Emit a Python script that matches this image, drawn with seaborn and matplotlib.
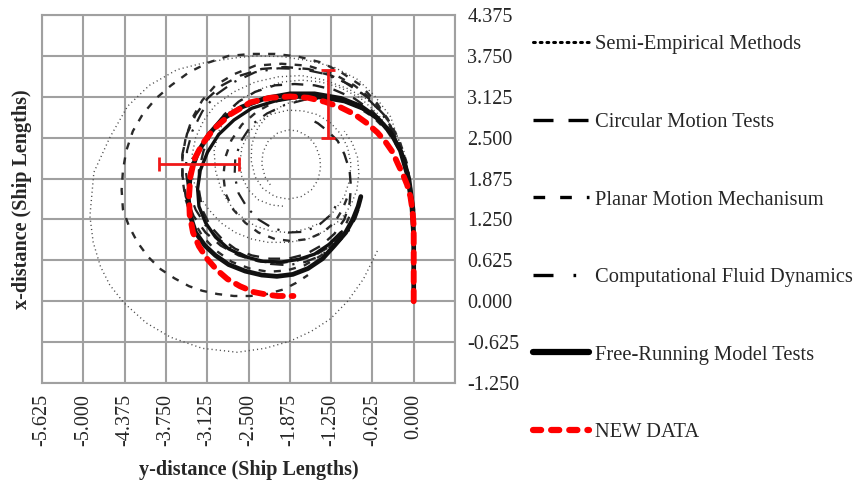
import numpy as np
import pandas as pd
import matplotlib
matplotlib.use("Agg")
import matplotlib.pyplot as plt
from matplotlib.lines import Line2D
import seaborn as sns

# ---------------- data (y-distance = horizontal, x-distance = vertical) -------------
# Semi-Empirical Methods (dotted)
semi1_y = [0, 0, -0.02, -0.13, -0.35, -0.6, -0.85, -1.21, -1.6, -2.0, -2.4, -2.7, -3.15, -3.58, -4.0, -4.33, -4.6, -4.84, -4.9, -4.85, -4.74, -4.6, -4.39, -4.05, -3.68, -3.2, -2.67, -2.25, -1.87, -1.55, -1.26, -1.0, -0.76, -0.53]
semi1_x = [0, 0.8, 1.5, 2.17, 2.82, 3.15, 3.39, 3.58, 3.68, 3.74, 3.75, 3.72, 3.65, 3.54, 3.3, 2.98, 2.5, 1.97, 1.3, 0.9, 0.53, 0.25, -0.02, -0.33, -0.55, -0.72, -0.78, -0.72, -0.61, -0.46, -0.27, 0.0, 0.34, 0.81]
semi2_y = [0, 0, -0.04, -0.1, -0.2, -0.35, -0.55, -0.8, -1.1, -1.4, -1.7, -2.0, -2.3, -2.6, -2.8, -2.95, -3.02, -3.0, -2.92, -2.8, -2.62, -2.4, -2.15, -1.9, -1.65, -1.4, -1.2, -1.05, -0.97, -0.95, -1.0, -1.1, -1.25, -1.45, -1.68, -1.9, -2.15, -2.35, -2.5, -2.6, -2.63, -2.6, -2.5, -2.35, -2.15, -1.95]
semi2_x = [0, 1.2, 1.65, 2.0, 2.32, 2.6, 2.87, 3.1, 3.26, 3.35, 3.38, 3.35, 3.25, 3.1, 2.88, 2.6, 2.3, 2.0, 1.73, 1.5, 1.3, 1.15, 1.07, 1.05, 1.1, 1.2, 1.38, 1.6, 1.85, 2.1, 2.35, 2.55, 2.72, 2.85, 2.91, 2.92, 2.86, 2.75, 2.57, 2.35, 2.12, 1.9, 1.7, 1.55, 1.47, 1.45]
semi3_y = [0, 0, -0.02, -0.05, -0.13, -0.25, -0.4, -0.6, -0.85, -1.1, -1.4, -1.7, -1.97, -2.2, -2.36, -2.45, -2.46, -2.4, -2.28, -2.1, -1.9, -1.7, -1.55, -1.45, -1.41, -1.42, -1.49, -1.6, -1.75, -1.9, -2.06, -2.2, -2.28, -2.3, -2.25, -2.15]
semi3_x = [0, 1.0, 1.4, 1.8, 2.12, 2.4, 2.65, 2.85, 3.0, 3.1, 3.14, 3.1, 3.0, 2.85, 2.65, 2.4, 2.15, 1.9, 1.72, 1.6, 1.56, 1.6, 1.7, 1.85, 2.03, 2.2, 2.39, 2.52, 2.6, 2.62, 2.57, 2.45, 2.28, 2.1, 1.9, 1.75]
semi4_y = [0, 0, -0.06, -0.15, -0.3, -0.5, -0.73, -1.0, -1.35, -1.7, -2.05, -2.4, -2.72, -3.0, -3.18, -3.3, -3.36, -3.35, -3.26, -3.1, -2.92, -2.7, -2.45, -2.2, -1.9, -1.6, -1.33, -1.1, -0.95, -0.86, -0.83, -0.85, -0.93, -1.05]
semi4_x = [0, 1.3, 1.85, 2.3, 2.63, 2.9, 3.1, 3.25, 3.38, 3.45, 3.43, 3.35, 3.2, 3.0, 2.76, 2.5, 2.2, 1.9, 1.63, 1.4, 1.2, 1.05, 0.95, 0.9, 0.9, 0.95, 1.08, 1.25, 1.47, 1.7, 1.95, 2.2, 2.42, 2.6]

# Circular Motion Tests (long dash)
cmt1_y = [0, 0, -0.04, -0.1, -0.22, -0.4, -0.62, -0.9, -1.2, -1.5, -1.8, -2.1, -2.4, -2.65, -2.87, -3.05, -3.18, -3.25, -3.25, -3.2, -3.08, -2.9, -2.7, -2.45, -2.18, -1.9, -1.63, -1.4, -1.2, -1.05, -0.97, -0.95, -0.97, -1.05, -1.15, -1.3, -1.45, -1.6]
cmt1_x = [0, 1.2, 1.62, 2.0, 2.35, 2.65, 2.9, 3.1, 3.23, 3.3, 3.32, 3.3, 3.2, 3.05, 2.85, 2.6, 2.3, 2.0, 1.7, 1.4, 1.15, 0.95, 0.8, 0.7, 0.65, 0.65, 0.72, 0.85, 1.03, 1.25, 1.5, 1.75, 2.0, 2.25, 2.45, 2.6, 2.72, 2.8]
cmt2_y = [0, 0, -0.06, -0.15, -0.28, -0.45, -0.68, -0.95, -1.25, -1.6, -1.95, -2.3, -2.62, -2.9, -3.12, -3.3, -3.43, -3.5, -3.5, -3.45, -3.33, -3.15, -2.92, -2.65, -2.35, -2.05, -1.77, -1.5, -1.28, -1.1]
cmt2_x = [0, 1.3, 1.8, 2.2, 2.55, 2.85, 3.1, 3.3, 3.45, 3.55, 3.58, 3.55, 3.45, 3.3, 3.1, 2.85, 2.56, 2.25, 1.92, 1.6, 1.3, 1.05, 0.85, 0.7, 0.61, 0.58, 0.62, 0.7, 0.83, 1.0]

# Planar Motion Mechanism (short dash)
pmm1_y = [0, 0, -0.04, -0.1, -0.2, -0.35, -0.55, -0.8, -1.1, -1.4, -1.75, -2.1, -2.45, -2.8, -3.1, -3.4, -3.67, -3.9, -4.1, -4.25, -4.35, -4.4, -4.42, -4.4, -4.31, -4.18, -4.02, -3.83, -3.62, -3.4, -3.2, -2.97, -2.72, -2.47, -2.22, -1.97, -1.78, -1.6]
pmm1_x = [0, 1.2, 1.65, 2.0, 2.37, 2.7, 3.02, 3.3, 3.5, 3.65, 3.74, 3.78, 3.78, 3.75, 3.65, 3.5, 3.3, 3.1, 2.86, 2.6, 2.3, 2.0, 1.7, 1.4, 1.15, 0.9, 0.68, 0.49, 0.35, 0.23, 0.16, 0.11, 0.08, 0.08, 0.11, 0.18, 0.28, 0.4]
pmm2_y = [0, 0, -0.04, -0.1, -0.22, -0.4, -0.62, -0.9, -1.22, -1.6, -2.0, -2.4, -2.72, -3.0, -3.2, -3.35, -3.45, -3.5, -3.5, -3.45, -3.35, -3.2, -3.0, -2.75, -2.48, -2.2, -1.92, -1.65, -1.4, -1.2, -1.05, -0.95]
pmm2_x = [0, 1.3, 1.72, 2.1, 2.47, 2.8, 3.08, 3.3, 3.48, 3.6, 3.63, 3.6, 3.47, 3.3, 3.07, 2.8, 2.5, 2.2, 1.87, 1.55, 1.26, 1.0, 0.78, 0.6, 0.5, 0.45, 0.47, 0.55, 0.7, 0.9, 1.12, 1.35]
pmm3_y = [0, 0, -0.04, -0.1, -0.22, -0.4, -0.62, -0.9, -1.2, -1.5, -1.8, -2.1, -2.37, -2.6, -2.76, -2.85, -2.88, -2.85, -2.73, -2.55, -2.35, -2.1, -1.85, -1.6, -1.38, -1.2, -1.08, -1.0]
pmm3_x = [0, 1.2, 1.62, 2.0, 2.32, 2.6, 2.82, 3.0, 3.11, 3.15, 3.13, 3.05, 2.9, 2.7, 2.46, 2.2, 1.92, 1.65, 1.4, 1.2, 1.05, 0.95, 0.92, 0.95, 1.05, 1.2, 1.4, 1.6]

# Computational Fluid Dynamics (dash-dot)
cfd1_y = [0, 0, -0.06, -0.15, -0.3, -0.5, -0.75, -1.05, -1.37, -1.7, -2.05, -2.4, -2.72, -3.0, -3.2, -3.35, -3.43, -3.45, -3.41, -3.3, -3.15, -2.95, -2.72, -2.45, -2.17, -1.9, -1.64, -1.4, -1.18, -1.0, -0.88, -0.8]
cfd1_x = [0, 1.3, 1.78, 2.2, 2.57, 2.9, 3.15, 3.35, 3.48, 3.55, 3.56, 3.5, 3.35, 3.15, 2.9, 2.6, 2.3, 2.0, 1.7, 1.4, 1.16, 0.95, 0.78, 0.65, 0.57, 0.55, 0.6, 0.7, 0.86, 1.05, 1.27, 1.5]
cfd2_y = [0, 0, -0.04, -0.1, -0.2, -0.35, -0.55, -0.8, -1.07, -1.35, -1.65, -1.95, -2.22, -2.45, -2.6, -2.7, -2.71, -2.65, -2.52, -2.35, -2.14, -1.9, -1.67, -1.45, -1.28, -1.15]
cfd2_x = [0, 1.2, 1.6, 1.95, 2.27, 2.55, 2.78, 2.95, 3.06, 3.1, 3.08, 3.0, 2.87, 2.7, 2.47, 2.2, 1.92, 1.65, 1.43, 1.25, 1.12, 1.05, 1.06, 1.15, 1.3, 1.5]

# Free-Running Model Tests (thick solid)
frm1_y = [0, 0, -0.03, -0.1, -0.2, -0.35, -0.55, -0.8, -1.1, -1.5, -1.87, -2.25, -2.6, -2.9, -3.1, -3.27, -3.38, -3.41, -3.38, -3.3, -3.16, -3.0, -2.8, -2.55, -2.3, -2.07, -1.83, -1.6, -1.38, -1.2, -1.03, -0.92, -0.84, -0.8]
frm1_x = [0, 1.0, 1.5, 1.95, 2.3, 2.58, 2.8, 2.98, 3.1, 3.17, 3.17, 3.1, 2.97, 2.78, 2.55, 2.27, 1.95, 1.56, 1.3, 1.05, 0.85, 0.7, 0.56, 0.46, 0.4, 0.38, 0.41, 0.5, 0.65, 0.85, 1.05, 1.25, 1.45, 1.6]
frm2_y = [0, 0, -0.06, -0.15, -0.3, -0.5, -0.75, -1.05, -1.4, -1.75, -2.1, -2.45, -2.72, -2.95, -3.12, -3.23, -3.27, -3.25, -3.15, -3.0, -2.8, -2.55, -2.28, -2.0, -1.74, -1.5, -1.28, -1.1]
frm2_x = [0, 1.4, 1.85, 2.2, 2.5, 2.75, 2.93, 3.05, 3.11, 3.12, 3.06, 2.95, 2.77, 2.55, 2.28, 2.0, 1.72, 1.45, 1.2, 0.98, 0.8, 0.68, 0.61, 0.6, 0.64, 0.72, 0.87, 1.05]

# NEW DATA (red dashed) and its error bars
new_y = [0, 0, 0, -0.02, -0.05, -0.1, -0.16, -0.24, -0.32, -0.43, -0.55, -0.72, -0.9, -1.12, -1.35, -1.6, -1.87, -2.17, -2.47, -2.77, -3.03, -3.2, -3.32, -3.38, -3.4, -3.39, -3.34, -3.25, -3.12, -2.98, -2.82, -2.63, -2.42, -2.22, -2.06, -1.82]
new_x = [0, 0.6, 1.15, 1.4, 1.6, 1.78, 1.93, 2.1, 2.28, 2.44, 2.58, 2.73, 2.86, 2.97, 3.05, 3.11, 3.13, 3.11, 3.04, 2.86, 2.63, 2.4, 2.17, 1.9, 1.6, 1.32, 1.05, 0.84, 0.64, 0.48, 0.34, 0.23, 0.14, 0.1, 0.08, 0.08]
err_v_y, err_v_x, err_v_half = -1.29, 3.02, 0.52   # vertical error bar
err_h_y, err_h_x, err_h_half = -3.25, 2.105, 0.60  # horizontal error bar

xtick_vals = [-5.625, -5.0, -4.375, -3.75, -3.125, -2.5, -1.875, -1.25, -0.625, 0.0, 0.625]
xtick_labels = ["-5.625", "-5.000", "-4.375", "-3.750", "-3.125", "-2.500", "-1.875", "-1.250", "-0.625", "0.000", ""]
ytick_vals = [-1.25, -0.625, 0.0, 0.625, 1.25, 1.875, 2.5, 3.125, 3.75, 4.375]
ytick_labels = ["-1.250", "-0.625", "0.000", "0.625", "1.250", "1.875", "2.500", "3.125", "3.750", "4.375"]

legend_labels = ["Semi-Empirical Methods", "Circular Motion Tests", "Planar Motion Mechanisum",
                 "Computational Fluid Dynamics", "Free-Running Model Tests", "NEW DATA"]

# ---------------- style ----------------
sns.set_theme(style="white")
plt.rcParams["font.family"] = ["Liberation Serif", "DejaVu Serif"]
FS = 14.5

fig = plt.figure(figsize=(8.58, 4.86), dpi=100)
ax = fig.add_axes([42 / 858, 103 / 486, 413 / 858, 368 / 486])

dot_ls = (0, (0.8, 2.2))
long_ls = (0, (5, 4))
short_ls = (0, (3, 3.5))
dashdot_ls = (0, (6, 4, 1, 4))

styles = {
    "semi": dict(color="#4a4a4a", linewidth=1.0, linestyle=dot_ls),
    "cmt": dict(color="#222222", linewidth=1.7, linestyle=long_ls),
    "pmm": dict(color="#2a2a2a", linewidth=1.7, linestyle=short_ls),
    "cfd": dict(color="#222222", linewidth=1.6, linestyle=dashdot_ls),
    "frm": dict(color="#111111", linewidth=3.4, linestyle="-"),
}

curves = [
    ("semi", semi1_y, semi1_x, None), ("semi", semi2_y, semi2_x, None),
    ("semi", semi3_y, semi3_x, None), ("semi", semi4_y, semi4_x, None),
    ("pmm", pmm1_y, pmm1_x, None), ("pmm", pmm2_y, pmm2_x, None), ("pmm", pmm3_y, pmm3_x, None),
    ("cmt", cmt1_y, cmt1_x, None), ("cmt", cmt2_y, cmt2_x, None),
    ("cfd", cfd1_y, cfd1_x, None), ("cfd", cfd2_y, cfd2_x, None),
    ("frm", frm1_y, frm1_x, None), ("frm", frm2_y, frm2_x, 2.4),
]
for kind, yy, xx, lw in curves:
    st = dict(styles[kind])
    if lw is not None:
        st["linewidth"] = lw
    sns.lineplot(x=yy, y=xx, sort=False, estimator=None, ax=ax, legend=False, **st)

sns.lineplot(x=new_y, y=new_x, sort=False, estimator=None, ax=ax, legend=False,
             color="#ff0000", linewidth=4.2, linestyle=(0, (1.8, 1.5)), dash_capstyle="round")

ax.errorbar([err_v_y], [err_v_x], yerr=[err_v_half], fmt="none", ecolor="#f01818",
            elinewidth=2.0, capsize=5, capthick=2.0)
ax.errorbar([err_h_y], [err_h_x], xerr=[err_h_half], fmt="none", ecolor="#f01818",
            elinewidth=2.0, capsize=5, capthick=2.0)

ax.set_xlim(-5.625, 0.625)
ax.set_ylim(-1.25, 4.375)
ax.set_xticks(xtick_vals, xtick_labels, rotation=90, fontsize=FS)
ax.set_yticks(ytick_vals, ytick_labels, fontsize=FS)
ax.yaxis.tick_right()
ax.yaxis.set_label_position("left")
ax.tick_params(axis="both", length=0)
ax.tick_params(axis="x", pad=8)
ax.tick_params(axis="y", pad=9)
ax.grid(True, color="#a0a0a0", linewidth=1.5)
ax.set_axisbelow(True)
for s in ax.spines.values():
    s.set_color("#a0a0a0")
    s.set_linewidth(1.5)

ax.set_xlabel("y-distance (Ship Lengths)", fontsize=FS, fontweight="bold", labelpad=10)
ax.set_ylabel("x-distance (Ship Lengths)", fontsize=FS, fontweight="bold", labelpad=7)

handles = [
    Line2D([], [], color="black", linewidth=2.2, linestyle=(0, (0.6, 1.6)), dash_capstyle="round"),
    Line2D([], [], color="black", linewidth=2.4, linestyle=(0, (6, 4.5))),
    Line2D([], [], color="black", linewidth=2.4, linestyle=(0, (3.5, 4.5))),
    Line2D([], [], color="black", linewidth=2.4, linestyle=(0, (6, 6, 0.8, 10))),
    Line2D([], [], color="black", linewidth=4.5, linestyle="-", solid_capstyle="round"),
    Line2D([], [], color="#ff0000", linewidth=4.5, linestyle=(0, (1.3, 1.6)), dash_capstyle="round"),
]
fig.legend(handles, legend_labels, loc="upper left", bbox_to_anchor=(533 / 858, 1 - 35 / 486),
           frameon=False, fontsize=FS + 0.3, handlelength=2.7, handletextpad=0.3,
           labelspacing=2.83, borderpad=0, borderaxespad=0)

fig.savefig("out.png", dpi=100)
